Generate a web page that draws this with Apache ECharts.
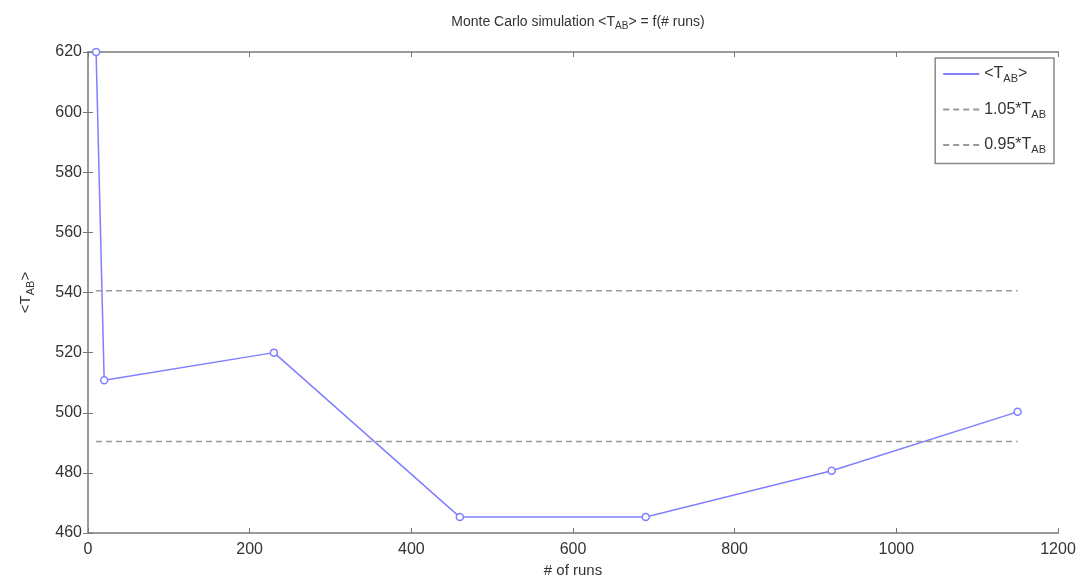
<!DOCTYPE html>
<html>
<head>
<meta charset="utf-8">
<script src="https://cdn.jsdelivr.net/npm/echarts@6/dist/echarts.min.js"></script>
<style>
  html, body { margin: 0; padding: 0; background: #fff; }
  #chart { width: 1083px; height: 583px; }
</style>
</head>
<body>
<div id="chart"></div>
<script>
// data
var runs = [10, 20, 230, 460, 690, 920, 1150];
var meanT = [620, 510.8, 520, 465.3, 465.3, 480.7, 500.3];
var upperX = [10, 1150];
var upperY = [540.6, 540.6];
var lowerX = [10, 1150];
var lowerY = [490.4, 490.4];
var seriesNames = ['mean', 'upper', 'lower'];

var chart = echarts.init(document.getElementById('chart'));

var font = 'Liberation Sans';
var txt = '#333';
var axisGray = '#9a9a9a';
var blue = '#7f7fff';

function pairs(xs, ys) {
  return xs.map(function (x, i) { return [x, ys[i]]; });
}

var sub = { fontSize: 11, fontFamily: font, color: txt, padding: [9, 0, 0, 0] };
var norm = { fontSize: 15, fontFamily: font, color: txt };

var option = {
  animation: false,
  backgroundColor: '#fff',
  title: {
    text: '{n|Monte Carlo simulation <T}{s|AB}{n|> = f(# runs)}',
    left: 573,
    textAlign: 'center',
    top: 8,
    textStyle: {
      fontWeight: 'normal',
      rich: {
        n: { fontSize: 14, fontFamily: font, color: txt, fontWeight: 'normal' },
        s: { fontSize: 10, fontFamily: font, color: txt, fontWeight: 'normal', padding: [8, 0, 0, 0] }
      }
    }
  },
  grid: { left: 88, right: 25, top: 52, bottom: 46 },
  legend: {
    orient: 'vertical',
    right: 29,
    top: 58,
    backgroundColor: '#fff',
    borderColor: '#888',
    borderWidth: 1.5,
    borderRadius: 0,
    padding: [8, 8, 8, 7],
    itemGap: 17,
    itemWidth: 36,
    itemHeight: 16,
    itemStyle: { opacity: 0 },
    data: seriesNames,
    formatter: function (name) {
      if (name === 'mean') return '{n|<T}{s|AB}{n|>}';
      if (name === 'upper') return '{n|1.05*T}{s|AB}';
      return '{n|0.95*T}{s|AB}';
    },
    textStyle: {
      rich: {
        n: { fontSize: 16, fontFamily: font, color: txt },
        s: { fontSize: 11, fontFamily: font, color: txt, padding: [10, 0, 0, 0] }
      }
    }
  },
  xAxis: [{
    type: 'value',
    min: 0,
    max: 1200,
    interval: 200,
    name: '# of runs',
    nameLocation: 'middle',
    nameGap: 30,
    nameTextStyle: { fontSize: 15, fontFamily: font, color: txt },
    axisLine: { lineStyle: { color: axisGray, width: 2 } },
    axisTick: { inside: true, length: 5, lineStyle: { color: '#777' } },
    axisLabel: {
      fontSize: 16, fontFamily: font, color: txt, margin: 9,
      formatter: function (v) { return String(v); }
    },
    splitLine: { show: false }
  }, {
    type: 'value',
    position: 'top',
    min: 0,
    max: 1200,
    interval: 200,
    axisLine: { show: true, lineStyle: { color: axisGray, width: 2 } },
    axisTick: { inside: true, length: 5, lineStyle: { color: '#777' } },
    axisLabel: { show: false },
    splitLine: { show: false }
  }],
  yAxis: [{
    type: 'value',
    min: 460,
    max: 620,
    interval: 20,
    name: '{n|<T}{s|AB}{n|>}',
    nameLocation: 'middle',
    nameGap: 52,
    nameRotate: 90,
    nameTextStyle: { rich: { n: norm, s: sub } },
    axisLine: { show: true, lineStyle: { color: axisGray, width: 2 } },
    axisTick: { show: true, inside: true, length: 5, lineStyle: { color: '#777' } },
    axisLabel: { fontSize: 16, fontFamily: font, color: txt, margin: 6 },
    splitLine: { show: false }
  }, {
    type: 'value',
    position: 'right',
    min: 460,
    max: 620,
    interval: 20,
    axisLine: { show: true, lineStyle: { color: axisGray, width: 2 } },
    axisTick: { show: true, inside: true, length: 5, lineStyle: { color: '#777' } },
    axisLabel: { show: false },
    splitLine: { show: false }
  }],
  series: [{
    name: seriesNames[0],
    type: 'line',
    data: pairs(runs, meanT),
    symbol: 'circle',
    symbolSize: 7,
    showAllSymbol: true,
    lineStyle: { color: blue, width: 1.5 },
    itemStyle: { color: '#fff', borderColor: blue, borderWidth: 1.5 },
    z: 3
  }, {
    name: seriesNames[1],
    type: 'line',
    data: pairs(upperX, upperY),
    symbol: 'none',
    lineStyle: { color: '#999', width: 1.5, type: [6, 4] },
    itemStyle: { color: '#999' }
  }, {
    name: seriesNames[2],
    type: 'line',
    data: pairs(lowerX, lowerY),
    symbol: 'none',
    lineStyle: { color: '#999', width: 1.5, type: [6, 4] },
    itemStyle: { color: '#999' }
  }]
};

chart.setOption(option);
</script>
</body>
</html>
